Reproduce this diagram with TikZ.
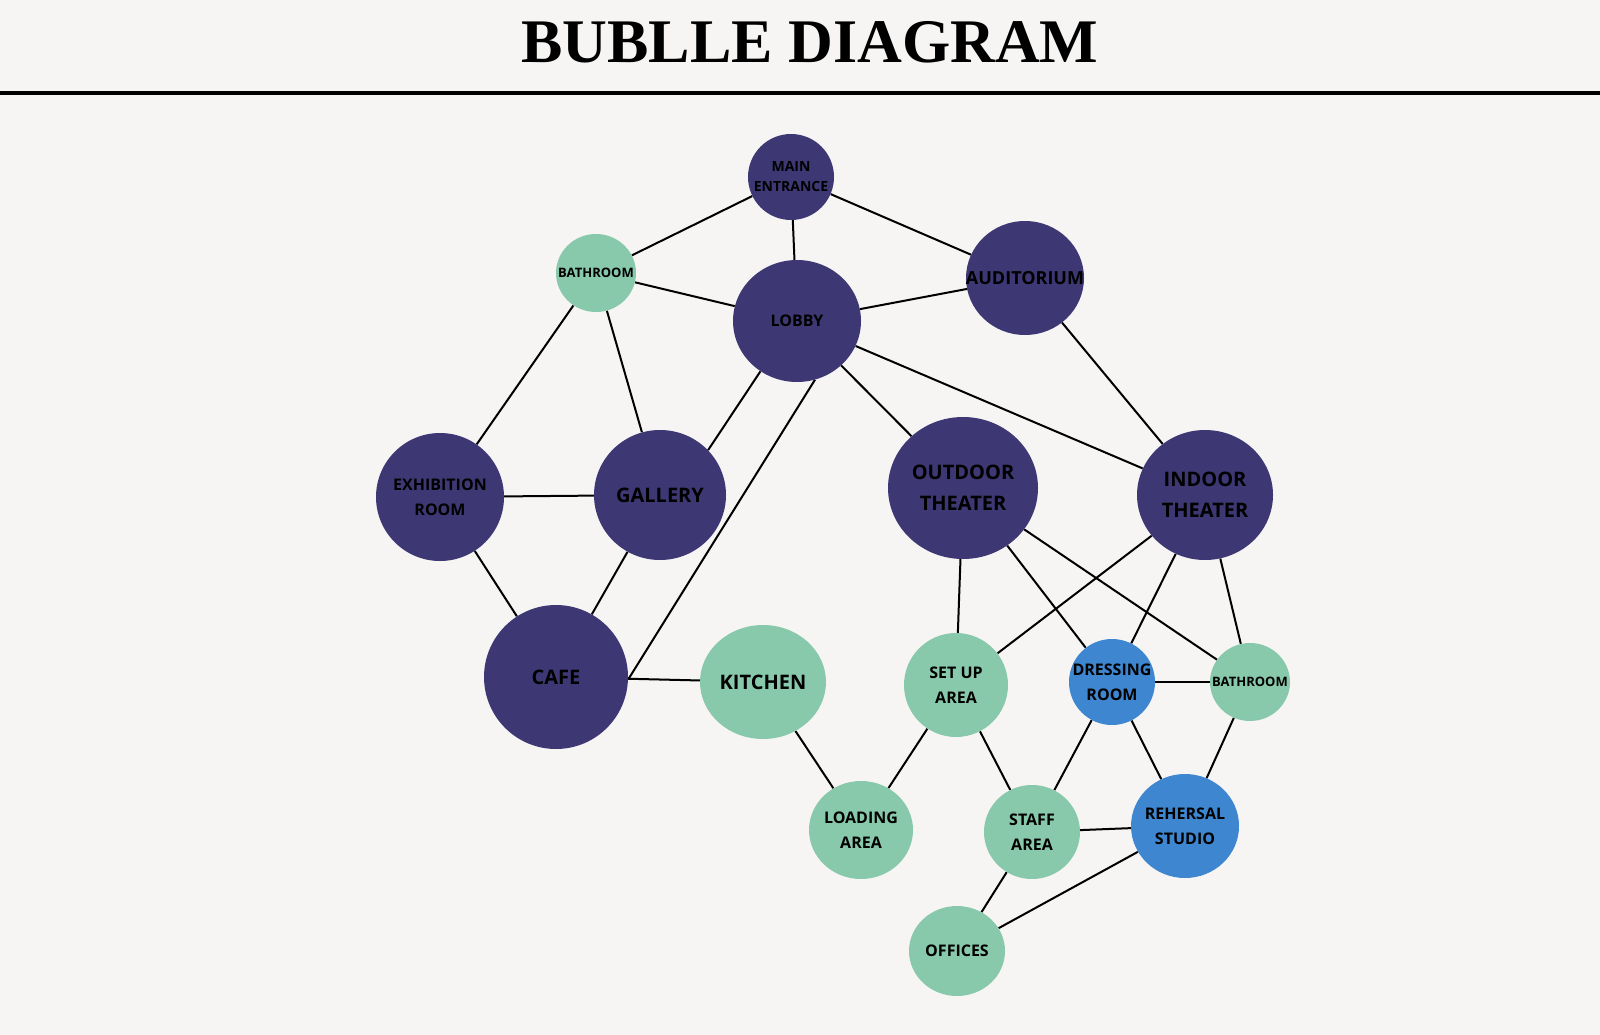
\documentclass[tikz,border=0pt]{standalone}
\usepackage{fontspec}
\setmainfont{Open Sans}
\newfontfamily\titlefont{Liberation Serif}
\usetikzlibrary{shapes.geometric}
\pgfdeclarelayer{edges}
\pgfdeclarelayer{bgl}
\pgfsetlayers{bgl,edges,main}
\definecolor{dark}{HTML}{3D3873}
\definecolor{mint}{HTML}{88C9AC}
\definecolor{blu}{HTML}{3E86CF}
\definecolor{bg}{HTML}{F7F5F4}
\tikzset{
 bub/.style={ellipse,inner sep=0pt},
 dk/.style={bub,fill=dark},
 mt/.style={bub,fill=mint},
 bl/.style={bub,fill=blu},
 txt/.style={align=center,font=\fontsize{16}{25}\selectfont\bfseries,text=black,inner sep=0pt},
 big/.style={txt,font=\fontsize{20}{31}\selectfont\bfseries},
 tiny/.style={txt,font=\fontsize{13}{16}\selectfont\bfseries},
 lk/.style={draw=black,line width=2pt}
}
\begin{document}
\begin{tikzpicture}[x=1pt,y=-1pt]
\begin{pgfonlayer}{bgl}
\fill[bg] (0,0) rectangle (1600,1035);
\end{pgfonlayer}
\useasboundingbox (0,0) rectangle (1600,1035);
\node at (810,42) {\titlefont\bfseries\fontsize{62}{70}\selectfont BUBLLE DIAGRAM};
\draw[line width=4pt] (0,93) -- (1600,93);
\node[dk,minimum width=86,minimum height=86] (me) at (791,177) {};
\node[mt,minimum width=80,minimum height=78] (b1) at (596,273) {};
\node[dk,minimum width=128,minimum height=122] (lo) at (797,321) {};
\node[dk,minimum width=118,minimum height=114] (au) at (1025,278) {};
\node[dk,minimum width=128,minimum height=128] (ex) at (440,497) {};
\node[dk,minimum width=132,minimum height=130] (ga) at (660,495) {};
\node[dk,minimum width=150,minimum height=142] (ot) at (963,488) {};
\node[dk,minimum width=136,minimum height=130] (it) at (1205,495) {};
\node[dk,minimum width=144,minimum height=144] (ca) at (556,677) {};
\node[mt,minimum width=126,minimum height=114] (ki) at (763,682) {};
\node[mt,minimum width=104,minimum height=104] (su) at (956,685) {};
\node[bl,minimum width=86,minimum height=86] (dr) at (1112,682) {};
\node[mt,minimum width=80,minimum height=78] (b2) at (1250,682) {};
\node[mt,minimum width=104,minimum height=98] (la) at (861,830) {};
\node[mt,minimum width=96,minimum height=94] (st) at (1032,832) {};
\node[bl,minimum width=108,minimum height=104] (re) at (1185,826) {};
\node[mt,minimum width=96,minimum height=90] (of) at (957,951) {};
\node[tiny,font=\fontsize{14}{20}\selectfont\bfseries] (tme) at (me) {MAIN\\ENTRANCE};
\node[tiny] (tb1) at (b1) {BATHROOM};
\node[txt] (tlo) at (lo.center) {LOBBY};
\node[txt,font=\fontsize{18}{22}\selectfont\bfseries] (tau) at (au) {AUDITORIUM};
\node[txt] (tex) at (ex) {EXHIBITION\\ROOM};
\node[big] (tga) at (ga) {GALLERY};
\node[big] (tot) at (ot) {OUTDOOR\\THEATER};
\node[big] (tit) at (it) {INDOOR\\THEATER};
\node[big] (tca) at (ca) {CAFE};
\node[big] (tki) at (ki) {KITCHEN};
\node[txt] (tsu) at (su) {SET UP\\AREA};
\node[txt] (tdr) at (dr) {DRESSING\\ROOM};
\node[tiny] (tb2) at (b2) {BATHROOM};
\node[txt] (tla) at (la) {LOADING\\AREA};
\node[txt] (tst) at (st) {STAFF\\AREA};
\node[txt] (tre) at (re) {REHERSAL\\STUDIO};
\node[txt] (tof) at (of) {OFFICES};
\begin{pgfonlayer}{edges}
\foreach \a/\b in {me/b1,me/lo,me/au,b1/lo,b1/ex,b1/ga,lo/au,lo/ot,lo/it,au/it,ex/ga,ex/ca,ga/ca,ca/ki,ki/la,ot/su,ot/dr,ot/b2,it/su,it/dr,it/b2,su/la,su/st,dr/b2,dr/st,dr/re,b2/re,st/re,st/of,re/of}
  \draw[lk] (\a) -- (\b);
\draw[lk] (lo.-73) -- (ca.-2);
\draw[lk] (lo.-126) -- (ga.43);
\end{pgfonlayer}
\end{tikzpicture}
\end{document}
